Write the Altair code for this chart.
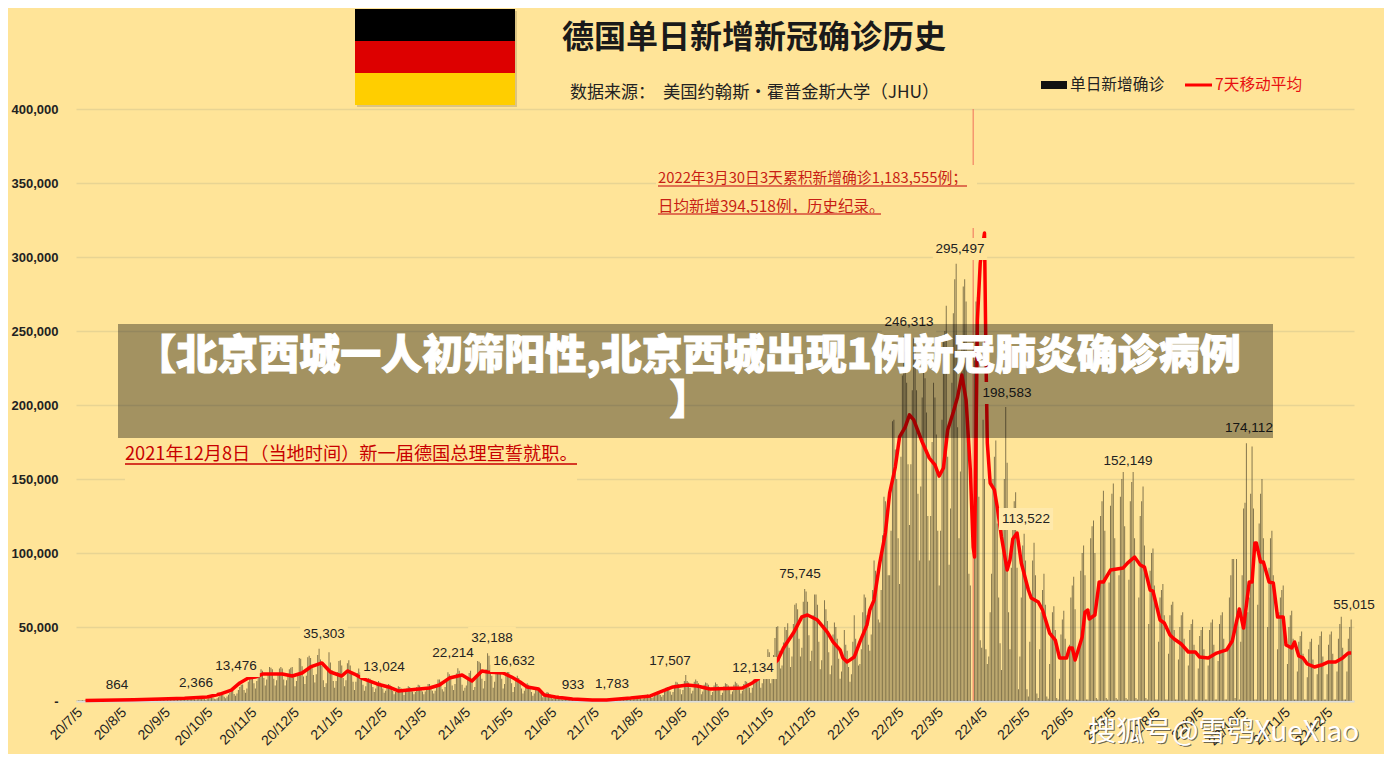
import altair as alt
import pandas as pd

BG = "#ffe498"
CJK = "Noto Sans CJK SC"
LAT = "Liberation Sans"

title_text = "德国单日新增新冠确诊历史"
source_a = "数据来源："
source_b = "美国约翰斯·霍普金斯大学（JHU）"
legend_bar = "单日新增确诊"
legend_line = "7天移动平均"
note_a1 = "2022年3月30日3天累积新增确诊1,183,555例；"
note_a2 = "日均新增394,518例，历史纪录。"
note_b = "2021年12月8日（当地时间）新一届德国总理宣誓就职。"
banner_1 = "【北京西城一人初筛阳性,北京西城出现1例新冠肺炎确诊病例"
banner_2 = "】"
watermark = "搜狐号@雪鸮XueXiao"

tick_labels = ["20/7/5","20/8/5","20/9/5","20/10/5","20/11/5","20/12/5","21/1/5","21/2/5","21/3/5","21/4/5",
               "21/5/5","21/6/5","21/7/5","21/8/5","21/9/5","21/10/5","21/11/5","21/12/5","22/1/5","22/2/5",
               "22/3/5","22/4/5","22/5/5","22/6/5","22/7/5","22/8/5","22/9/5","22/10/5","22/11/5","22/12/5"]
y_ticks = [0, 50000, 100000, 150000, 200000, 250000, 300000, 350000, 400000]

# daily new cases, thousands, one row per week (Sunday first)
daily_k = [
 .2,.4,.4,.4,.5,.4,.3, .2,.3,.4,.5,.5,.4,.3, .2,.3,.5,.5,.6,.5,.4, .3,.4,.6,.7,.8,.7,.5,
 .3,.5,.6,.8,.9,.8,.6, .4,.6,.7,.9,.9,.9,.7, .4,.6,.9,1.2,1.3,1.2,.9, .6,.8,1.3,1.5,1.7,1.4,1.0,
 .6,.9,1.3,1.6,1.5,1.4,1.0, .5,.9,1.2,1.4,1.4,1.3,1.0, .6,.9,1.1,1.4,1.5,1.3,.9, .7,1.0,1.2,1.7,1.9,1.7,1.2,
 .8,1.2,1.6,1.9,2.0,1.9,1.4, .9,1.3,1.8,2.4,2.4,2.3,1.6, 1.1,1.9,2.6,3.5,4.1,4.0,2.8, 1.9,3.0,4.2,5.6,6.5,7.3,4.8,
 3.5,5.0,7.5,9.5,11.0,11.2,7.5, 5.5,8.5,13.0,15.0,16.8,18.5,12.0, 8.5,13.5,17.0,19.0,21.5,20.5,15.5,
 10.5,14.5,18.5,23.0,22.5,21.5,15.0, 10.5,14.0,17.5,22.0,23.0,22.0,14.5, 10.5,14.0,18.5,21.5,22.5,23.0,16.0,
 10.0,13.5,18.0,29.0,28.5,23.5,16.5, 11.5,17.0,29.5,30.5,29.0,24.5,17.5, 12.5,18.0,31.0,35.3,28.0,24.0,14.0,
 9.5,12.0,21.5,33.0,26.0,21.0,13.5, 9.0,13.5,19.5,27.0,27.5,24.0,15.5, 10.0,14.0,25.5,27.5,24.0,19.5,13.0,
 7.5,13.0,19.0,22.0,19.5,16.0,11.0, 7.0,10.0,14.0,16.5,15.0,13.0,9.5, 6.0,8.5,12.0,13.5,12.5,11.5,8.5,
 5.5,7.0,10.0,11.5,11.0,10.0,7.0, 4.5,6.0,8.0,10.0,9.5,8.5,6.5, 4.0,6.0,8.5,10.0,9.5,8.5,6.5,
 4.5,6.0,9.5,11.0,10.5,9.0,6.5, 4.5,6.5,9.0,11.5,11.5,10.0,7.0, 5.0,7.0,11.5,14.5,14.5,13.0,8.0,
 6.5,9.5,15.0,19.5,18.0,16.5,10.5, 7.5,11.5,18.5,22.2,20.5,17.5,11.0, 7.0,9.0,10.5,15.5,19.0,20.5,13.5,
 7.5,9.5,17.0,27.0,26.5,25.5,15.0, 8.5,13.5,21.5,32.2,30.5,24.5,17.0, 9.0,13.0,20.5,24.5,24.0,21.5,15.0,
 8.5,11.5,18.5,22.0,20.5,16.6,12.0, 6.0,9.5,14.5,17.0,15.5,13.0,8.5, 5.0,7.0,10.0,12.0,11.0,9.0,6.0,
 3.5,5.0,7.5,9.0,8.5,7.0,5.0, 2.5,3.5,5.0,6.0,5.5,4.5,3.0, 1.5,2.0,3.0,3.5,3.0,2.5,1.8,
 1.0,1.2,1.8,2.2,1.9,1.5,1.1, .6,.8,1.0,1.3,1.2,.9,.7, .4,.5,.7,.9,.9,.8,.6, .4,.5,.7,.9,.9,.8,.6,
 .5,.6,.9,1.1,1.0,.9,.7, .6,.7,1.2,1.5,1.6,1.4,1.0, .7,.9,1.6,1.8,1.8,1.6,1.2, 1.0,1.2,2.2,3.0,3.1,2.7,1.9,
 1.2,1.7,3.0,4.0,4.4,3.9,2.8, 2.0,2.5,4.8,6.0,6.2,5.8,4.0, 2.8,4.0,7.5,9.0,9.5,9.0,6.5,
 4.2,6.0,11.0,13.0,12.5,11.5,8.0, 4.5,7.5,13.5,17.5,13.5,12.5,9.0, 5.0,7.0,13.0,14.5,13.5,12.0,8.5,
 4.5,6.5,11.0,12.5,12.0,11.0,7.0, 4.0,6.0,10.5,12.5,11.5,10.0,7.5, 4.0,5.5,10.0,12.0,11.5,10.5,8.0,
 4.5,6.5,11.0,13.0,12.0,11.0,8.0, 5.0,7.0,11.5,13.5,13.0,12.0,9.0, 5.5,9.0,14.5,18.0,19.0,19.5,14.5,
 9.0,12.0,20.0,24.0,25.5,35.0,33.0, 12.0,17.0,31.0,42.5,50.0,50.5,34.0, 22.0,24.0,39.5,50.0,48.0,52.5,36.0,
 23.0,30.0,52.0,65.0,66.0,62.0,42.0, 30.0,36.0,67.0,75.7,74.0,67.0,44.5, 27.0,34.0,58.0,72.0,72.0,65.0,40.0,
 21.5,27.5,51.0,68.0,62.0,54.0,33.0, 18.0,24.0,45.0,53.0,50.0,42.0,28.5, 15.0,20.0,30.0,48.0,38.0,34.0,23.0,
 13.0,18.0,40.0,58.0,42.0,35.0,24.0, 25.0,35.0,60.0,72.0,70.0,58.0,38.0, 34.0,45.0,75.0,95.0,88.0,80.0,55.0,
 53.0,75.0,112.0,138.0,135.0,120.0,85.0, 85.0,115.0,189.0,190.0,170.0,150.0,110.0,
 79.0,165.0,220.0,246.3,236.0,215.0,160.0, 119.0,160.0,210.0,245.0,240.0,210.0,140.0,
 95.0,145.0,205.0,235.0,218.0,195.0,125.0, 95.0,125.0,175.0,215.0,205.0,180.0,115.0,
 78.0,115.0,190.0,245.0,250.0,267.0,165.0, 92.0,130.0,215.0,262.0,285.0,295.5,185.0,
 110.0,155.0,245.0,280.0,285.0,270.0,175.0, 86.0,78.0,0,0,230.0,270.0,273.0,
 138.0,41.0,36.0,190.0,150.0,35.0,25.0, 30.0,60.0,86.0,150.0,165.0,176.0,120.0,
 70.0,39.0,21.0,120.0,150.0,198.6,161.0, 60.0,35.0,90.0,120.0,135.0,141.0,90.0,
 8.0,30.0,70.0,105.0,113.0,95.0,8.0, 3.0,40.0,70.0,95.0,107.0,85.0,5.0, 2.0,35.0,60.0,75.0,86.0,65.0,3.0,
 1.5,25.0,45.0,60.0,64.0,48.0,2.0, 1.0,15.0,45.0,55.0,61.0,42.0,1.0, 1.0,38.0,70.0,78.0,84.0,62.0,1.0,
 .8,35.0,88.0,100.0,105.0,85.0,1.0, 1.0,60.0,110.0,118.0,122.0,100.0,2.0, 1.0,75.0,125.0,135.0,142.0,115.0,2.0,
 1.0,80.0,132.0,140.0,147.0,110.0,2.0, 1.0,85.0,138.0,150.0,155.0,118.0,2.0, 1.0,82.0,135.0,148.0,155.0,110.0,2.0,
 1.0,70.0,125.0,135.0,145.0,105.0,2.0, 1.0,52.0,88.0,100.0,103.0,78.0,1.0, 1.0,40.0,70.0,75.0,79.0,58.0,1.0,
 1.0,32.0,58.0,65.0,67.0,48.0,1.0, 1.0,28.0,50.0,58.0,60.0,42.0,1.0, 1.0,24.0,48.0,52.0,55.0,38.0,1.0,
 1.0,22.0,44.0,48.0,50.0,35.0,1.0, 1.0,24.0,48.0,53.0,55.0,38.0,1.0, 1.0,27.0,52.0,58.0,60.0,42.0,1.0,
 1.0,35.0,70.0,85.0,96.0,96.0,2.0, 96.0,60.0,1.0,40.0,85.0,130.0,134.0, 174.1,60.0,70.0,140.0,172.0,130.0,1.0,
 1.0,65.0,120.0,140.0,150.0,110.0,1.0, 1.0,50.0,90.0,110.0,115.0,85.0,1.0, 1.0,35.0,60.0,70.0,75.0,78.0,1.0,
 1.0,25.0,50.0,58.0,61.0,42.0,1.0, 1.0,20.0,40.0,44.0,47.0,32.0,1.0, 1.0,16.0,35.0,40.0,42.0,28.0,1.0,
 1.0,18.0,38.0,44.0,47.0,30.0,1.0, 1.0,18.0,38.0,45.0,47.0,32.0,1.0, 1.0,20.0,42.0,52.0,57.0,36.0,1.0,
 1.0,20.0,42.0,50.0,55.0,
]
cum_day = 633          # 3-day cumulative report, runs off the axis
cum_value = 400000

avg_days = [6,40,59,76,92,101,109,115,121,126,131,145,152,159,165,173,179,187,191,196,201,212,220,227,249,256,263,272,279,286,290,
 301,307,313,318,326,330,338,350,364,374,391,405,412,421,431,438,447,470,477,481,495,499,506,512,516,523,530,534,539,541,544,549,553,558,
 560,563,567,571,574,578,581,585,588,591,597,602,606,609,612,615,619,622,625,628,631,633,634,636,638,641,642,643,645,648,650,653,657,659,
 661,664,667,672,674,679,682,687,691,694,699,701,703,705,710,712,714,715,719,722,725,730,739,742,747,751,754,758,760,765,768,772,775,780,
 785,790,793,799,805,812,816,821,824,828,830,832,833,836,838,842,845,848,852,854,858,860,863,866,869,874,879,884,889,894,898,900]
avg_k = [.4,.9,1.3,1.8,2.7,4.7,7.4,12.2,15.5,16.2,18.2,18.2,16.9,18.9,23,25.7,19.6,16.9,20.3,18.2,15.5,11.5,9.5,6.8,8.8,10.8,15.5,17.6,13.5,20.3,19.6,
 18.9,16.2,12.8,9.5,8.1,4.1,2.7,1.4,.7,.7,2.0,3.4,6.1,9.5,10.8,10.1,8.1,8.8,12.2,14.9,27.7,35.8,45.9,56.8,58.1,54.7,46.6,39.9,34.5,29.1,26.4,29.7,39.9,51.4,
 61.5,68.2,93.2,113.5,140.5,158.1,178.4,185.1,193.3,189.9,175.0,164.2,159.5,152.0,157.4,183.1,195.3,205.4,220.3,203.4,156.1,104.1,97.3,257.4,296.0,316.2,235.1,174.3,147.3,142.6,131.1,110.8,88.5,95.3,
 109.5,113.5,93.2,75.0,69.6,66.9,61.5,45.9,41.2,29.1,29.1,35.8,35.8,27.7,43.2,60.1,61.5,55.4,58.1,80.4,80.4,88.5,89.9,93.2,97.3,91.9,90.5,75.0,74.3,54.7,52.7,44.6,41.9,38.5,
 33.1,33.1,29.7,29.1,32.4,34.5,40.5,62.2,49.3,80.4,80.4,106.8,106.8,93.9,93.9,80.4,79.7,56.8,56.8,37.8,35.8,39.9,30.4,29.1,25.0,23.0,24.3,26.4,26.4,29.1,32.4,32.4]

peak_labels = ["864","2,366","13,476","35,303","13,024","22,214","32,188","16,632","933","1,783","17,507","12,134",
               "75,745","246,313","295,497","198,583","113,522","152,149","174,112","55,015"]

# ---- page layout ----
PL, PT = 76, 109          # plot origin in page pixels
PW, PH = 1278, 592
def px(x): return x - PL
def py(y): return y - PT

one = pd.DataFrame({"t": [""]})

def rect(x0, x1, y0, y1, color, opacity=1.0):
    return alt.Chart(one).mark_rect(color=color, opacity=opacity).encode(
        x=alt.value(px(x0)), x2=alt.value(px(x1)), y=alt.value(py(y0)), y2=alt.value(py(y1)))

def hline(x0, x1, y, color, w):
    return alt.Chart(one).mark_rule(color=color, strokeWidth=w).encode(
        x=alt.value(px(x0)), x2=alt.value(px(x1)), y=alt.value(py(y)))

def text(s, x, y, size, color="#222222", font=CJK, align="left", weight="normal", opacity=1.0, stroke=0):
    kw = {"stroke": color, "strokeWidth": stroke} if stroke else {}
    return alt.Chart(pd.DataFrame({"t": [s]})).mark_text(
        font=font, fontSize=size, color=color, align=align, baseline="middle",
        fontWeight=weight, opacity=opacity, **kw).encode(
        text="t:N", x=alt.value(px(x)), y=alt.value(py(y)))

base_date = pd.Timestamp("2020-07-05")
tick_days = [int((pd.Timestamp("20" + s.replace("/", "-")) - base_date).days) for s in tick_labels]
label_expr = "[" + ",".join(f"'{s}'" for s in tick_labels) + "][indexof([" + ",".join(map(str, tick_days)) + "],datum.value)]"

x_scale = alt.Scale(domain=[-0.7, 902], nice=False, zero=False, padding=0)
y_scale = alt.Scale(domain=[0, 400000], nice=False)

bars_df = pd.DataFrame({"day": range(len(daily_k)), "cases": [v * 1000 for v in daily_k]})
bars_df = bars_df[bars_df.cases > 0]
bars = alt.Chart(bars_df).mark_bar(size=1, color="#3a3320", opacity=0.62, orient="vertical").encode(
    x=alt.X("day:Q", scale=x_scale, axis=alt.Axis(
        values=tick_days, labelExpr=label_expr, labelAngle=-45, labelAlign="right", labelBaseline="middle",
        labelFont=LAT, labelFontSize=14, labelColor="#222222", labelPadding=9, labelOffset=3,
        ticks=False, grid=False, domainColor="#dcdcdc", domainWidth=2, title=None, labelOverlap=False, labelBound=False, labelFlush=False)),
    y=alt.Y("cases:Q", scale=y_scale, axis=alt.Axis(
        values=y_ticks, labelExpr="datum.value==0?'-':format(datum.value,',')",
        labelFont=LAT, labelFontSize=13, labelFontWeight="bold", labelColor="#222222", labelPadding=18,
        ticks=False, domain=False, grid=True, gridColor="#e8d493", gridWidth=1.5, title=None)),
)

cum_bar = alt.Chart(pd.DataFrame({"day": [cum_day], "cases": [cum_value]})).mark_rule(color="#f0705a", strokeWidth=1).encode(
    x=alt.X("day:Q", scale=x_scale), y=alt.Y("zero:Q", scale=y_scale), y2="cases:Q"
).transform_calculate(zero="0")

avg_df = pd.DataFrame({"day": avg_days, "avg": [v * 1000 for v in avg_k]})
line = alt.Chart(avg_df).mark_line(color="#ff0000", strokeWidth=3.5, strokeJoin="round").encode(
    x=alt.X("day:Q", scale=x_scale), y=alt.Y("avg:Q", scale=y_scale))

layers = [bars, cum_bar, line]

# peak labels: (text, centre x, centre y, box half width)
spots = [(117,685),(196,683),(236,666),(324,634),(384,667),(453,653),(492,638),(514,661),(573,685),(612,684),
         (670,661),(753,668),(800,574),(909,322),(960,249),(1007,393),(1026,519),(1128,461),(1249,428),(1354,605)]
for s, (cx, cy) in zip(peak_labels, spots):
    hw = len(s) * 3.3 + 4
    fill = "#ffe9ab" if s == "113,522" else BG
    layers.append(rect(cx - hw, cx + hw, cy - 11, cy + 11, fill))
for s, (cx, cy) in zip(peak_labels, spots):
    layers.append(text(s, cx, cy, 13.5, font=LAT, align="center"))

# flag
layers += [rect(357, 517, 11, 107, "#8a7a50", 0.3),
           rect(355, 515, 9, 41, "#000000"), rect(355, 515, 41, 73, "#dd0000"), rect(355, 515, 73, 105, "#ffce00")]

# titles and legend
layers += [text(title_text, 562, 38, 32, color="#1a1a1a", weight="bold"),
           text(source_a, 570, 93, 17),
           text(source_b, 663, 93, 17.3),
           rect(1041, 1067, 81, 89, "#111111"),
           text(legend_bar, 1070, 85, 15.7),
           hline(1185, 1212, 85, "#ff0000", 3),
           text(legend_line, 1215, 85, 15.7, color="#e81010")]

# annotations
layers += [rect(656, 977, 165, 228, BG),
           text(note_a1, 658, 179, 14.8, color="#c81e14"),
           hline(658, 967, 186, "#e07050", 2),
           text(note_a2, 658, 207, 15.5, color="#c81e14"),
           hline(658, 881, 214, "#e07050", 2),
           rect(125, 577, 441, 482, BG),
           text(note_b, 125, 455, 18.2, color="#c80000"),
           hline(125, 577, 464, "#c80000", 1.5)]

# banner and watermark
layers += [rect(118, 1273, 324, 438, "#000000", 0.36),
           text(banner_1, 688, 357, 41, color="#ffffff", align="center", weight=900, stroke=1),
           text(banner_2, 690, 402, 41, color="#ffffff", align="center", weight=900, stroke=1),
           text(watermark, 1089, 734, 28, color="#333333", opacity=0.7),
           text(watermark, 1088, 733, 28, color="#ffffff")]

chart = alt.layer(*layers).properties(
    width=PW, height=PH,
    padding={"left": PL - 8, "top": PT - 8, "right": 1376 - (PL - 8) - PW, "bottom": 746 - (PT - 8) - PH},
    autosize=alt.AutoSizeParams(type="none"),
    background=BG,
    usermeta={"embedOptions": {"defaultStyle": "html,body{background:#ffe498;overflow:hidden}"}},
).configure_view(stroke=None)

chart.save("out.html", embed_options={"renderer": "svg", "actions": False})
